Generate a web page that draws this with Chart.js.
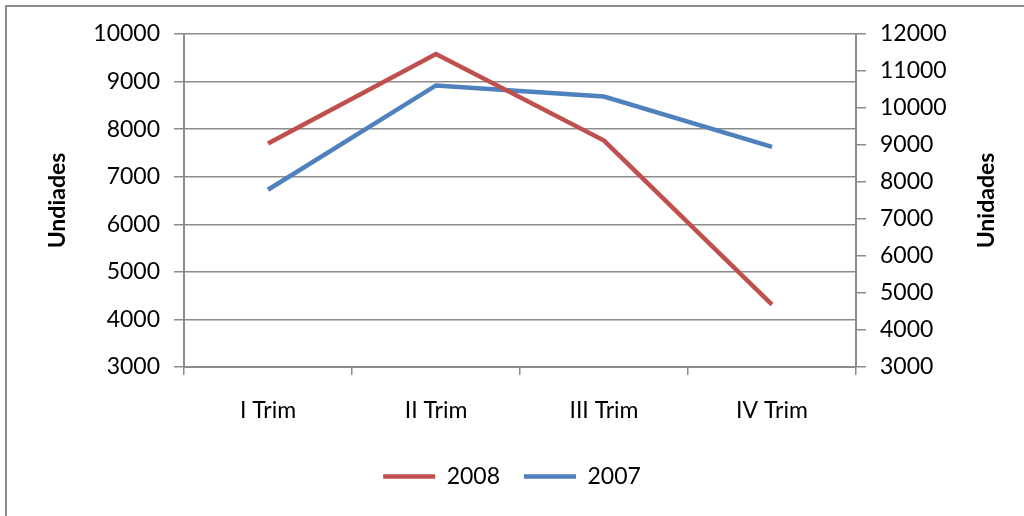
<!DOCTYPE html>
<html>
<head>
<meta charset="utf-8">
<script src="https://cdn.jsdelivr.net/npm/chart.js@4"></script>
<style>
    html, body { margin: 0; padding: 0; background: #fff; }
    #wrap { position: relative; width: 1024px; height: 516px; }
    #frame {
        position: absolute; left: 5px; top: 5px; width: 1030px; height: 520px;
        border-left: 2px solid #8c8c8c; border-top: 2px solid #8c8c8c;
    }
    canvas { position: absolute; left: 0; top: 0; }
</style>
</head>
<body>
<div id="wrap">
    <div id="frame"></div>
    <canvas id="chart" width="1024" height="516"></canvas>
</div>
<script>
const categories = ["I Trim", "II Trim", "III Trim", "IV Trim"];
const values2008 = [7700, 9580, 7760, 4310];
const values2007 = [7790, 10610, 10310, 8950];

const gridColor = "#8c8c8c";
const font = "Lato, 'Open Sans', sans-serif";

Chart.defaults.font.family = font;
Chart.defaults.color = "#000";

// right axis title reads bottom-to-top like the left one
const rightTitle = {
    id: "rightTitle",
    afterDraw(chart) {
        const c = chart.ctx;
        const area = chart.chartArea;
        c.save();
        c.translate(987, (area.top + area.bottom) / 2);
        c.rotate(-Math.PI / 2);
        c.font = "bold 23px " + font;
        c.fillStyle = "#000";
        c.textAlign = "center";
        c.textBaseline = "middle";
        c.fillText("Unidades", 0, 0);
        c.restore();
    }
};

const plain = v => String(v);

const ctx = document.getElementById("chart").getContext("2d");
const chart = new Chart(ctx, {
    type: "line",
    data: {
        labels: categories,
        datasets: [
            {
                label: "2008",
                data: values2008,
                borderColor: "#c0504d",
                backgroundColor: "#c0504d",
                borderWidth: 4.5,
                pointRadius: 0,
                tension: 0,
                yAxisID: "y"
            },
            {
                label: "2007",
                data: values2007,
                borderColor: "#4f81bd",
                backgroundColor: "#4f81bd",
                borderWidth: 4.5,
                pointRadius: 0,
                tension: 0,
                yAxisID: "y2"
            }
        ]
    },
    options: {
        responsive: false,
        animation: false,
        layout: { padding: { top: 34, right: 0, bottom: 18, left: 0 } },
        plugins: {
            tooltip: { enabled: false },
            legend: {
                position: "bottom",
                labels: {
                    usePointStyle: true,
                    pointStyle: "line",
                    pointStyleWidth: 52,
                    font: { size: 23 },
                    padding: 24
                }
            }
        },
        scales: {
            x: {
                offset: true,
                grid: {
                    offset: true,
                    drawOnChartArea: false,
                    drawTicks: true,
                    tickLength: 8,
                    color: gridColor,
                    lineWidth: 1.5
                },
                border: { color: gridColor, width: 2 },
                ticks: { font: { size: 23 }, padding: 22 },
                afterFit: scale => { scale.height = 74; }
            },
            y: {
                position: "left",
                min: 3000,
                max: 10000,
                ticks: { stepSize: 1000, font: { size: 23 }, padding: 14, callback: plain },
                grid: { color: gridColor, lineWidth: 1.5, tickLength: 10 },
                border: { color: gridColor, width: 2 },
                title: {
                    display: true,
                    text: "Undiades",
                    font: { size: 23, weight: "bold" },
                    padding: { top: 44, bottom: 0 }
                },
                afterFit: scale => { scale.width = 184; }
            },
            y2: {
                position: "right",
                min: 3000,
                max: 12000,
                ticks: { stepSize: 1000, font: { size: 23 }, padding: 14, callback: plain },
                grid: { drawOnChartArea: false, color: gridColor, lineWidth: 1.5, tickLength: 10 },
                border: { color: gridColor, width: 2 },
                afterFit: scale => { scale.width = 168; }
            }
        }
    },
    plugins: [rightTitle]
});
</script>
</body>
</html>
